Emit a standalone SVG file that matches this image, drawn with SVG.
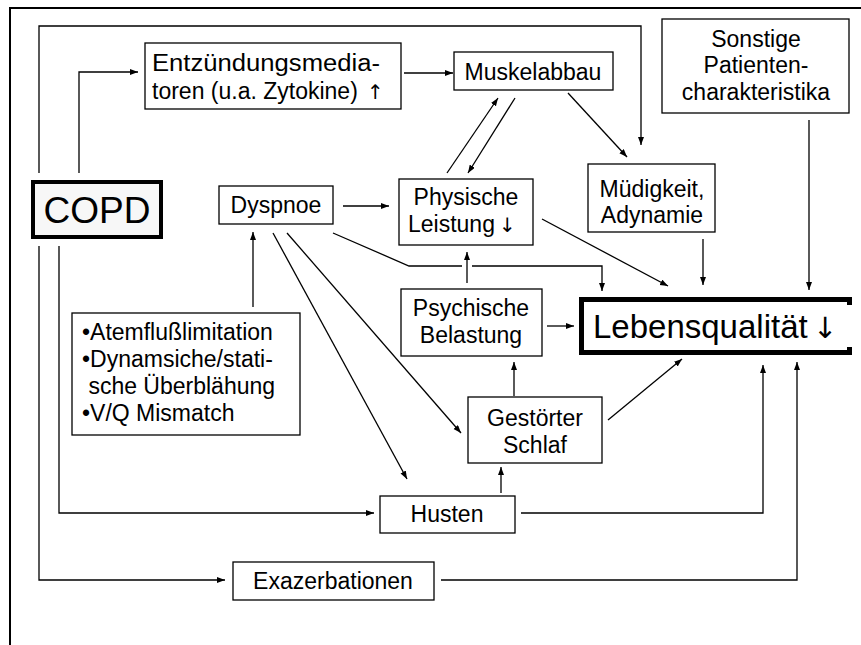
<svg xmlns="http://www.w3.org/2000/svg" width="861" height="645" viewBox="0 0 861 645">
<style>
.box{fill:#fff;stroke:#000;stroke-width:1.3}
.t{font-family:"Liberation Sans",Arial,sans-serif;font-size:23px;fill:#000}
.c{text-anchor:middle}
.ar{font-family:"DejaVu Sans",sans-serif;fill:#000}
.ln{fill:none;stroke:#000;stroke-width:1.3}
</style>
<defs>
<marker id="ah" markerUnits="userSpaceOnUse" markerWidth="9" markerHeight="7" refX="8" refY="3" orient="auto">
<path d="M0,0 L8,3 L0,6 z" fill="#000"/>
</marker>
</defs>
<rect width="861" height="645" fill="#fff"/>
<path d="M10,645 L10,8 L861,8" fill="none" stroke="#000" stroke-width="2"/>
<g id="connectors" class="ln">
<path class="ln" d="M39,173 L39,26 L641,26 L641,145" marker-end="url(#ah)"/>
<path class="ln" d="M79,173 L79,72 L138,72" marker-end="url(#ah)"/>
<path class="ln" d="M404,73 L453,73" marker-end="url(#ah)"/>
<path class="ln" d="M568,93 L627,157" marker-end="url(#ah)"/>
<path class="ln" d="M447,173 L498,98" marker-end="url(#ah)"/>
<path class="ln" d="M515,98 L468,173" marker-end="url(#ah)"/>
<path class="ln" d="M809,120 L809,290" marker-end="url(#ah)"/>
<path class="ln" d="M703,239 L703,285" marker-end="url(#ah)"/>
<path class="ln" d="M542,219 L668,286" marker-end="url(#ah)"/>
<path class="ln" d="M343,206 L389,206" marker-end="url(#ah)"/>
<path class="ln" d="M333,233 L409,266 L462,266 M472,266 L602,266 L602,291" marker-end="url(#ah)"/>
<path class="ln" d="M467,283 L467,252" marker-end="url(#ah)"/>
<path class="ln" d="M547,326 L574,326" marker-end="url(#ah)"/>
<path class="ln" d="M253,307 L253,232" marker-end="url(#ah)"/>
<path class="ln" d="M287,233 L461,433" marker-end="url(#ah)"/>
<path class="ln" d="M273,233 L407,479" marker-end="url(#ah)"/>
<path class="ln" d="M514,396 L514,362" marker-end="url(#ah)"/>
<path class="ln" d="M608,420 L682,359" marker-end="url(#ah)"/>
<path class="ln" d="M501,493 L501,467" marker-end="url(#ah)"/>
<path class="ln" d="M521,513 L763,513 L763,365" marker-end="url(#ah)"/>
<path class="ln" d="M441,580 L797,580 L797,362" marker-end="url(#ah)"/>
<path class="ln" d="M39,246 L39,580 L225,580" marker-end="url(#ah)"/>
<path class="ln" d="M59,246 L59,513 L374,513" marker-end="url(#ah)"/>
</g>
<g id="copd">
<rect x="33" y="182" width="128" height="55" fill="#f7f7f7" stroke="#000" stroke-width="4"/>
<text class="t c" x="97" y="223" style="font-size:37px">COPD</text>
</g>
<g id="entzuendung">
<rect class="box" x="145" y="43" width="256" height="66"/>
<text class="t" x="152" y="71" textLength="228" lengthAdjust="spacingAndGlyphs">Entzündungsmedia-</text>
<text class="t" x="152" y="99">toren (u.a. Zytokine)</text>
<text class="ar" x="367" y="99" style="font-size:20px">↑</text>
</g>
<g id="muskelabbau">
<rect class="box" x="454" y="52" width="159" height="38"/>
<text class="t c" x="533" y="80">Muskelabbau</text>
</g>
<g id="sonstige">
<rect class="box" x="662" y="19" width="187" height="94"/>
<text class="t c" x="756" y="47">Sonstige</text>
<text class="t c" x="756" y="73">Patienten-</text>
<text class="t c" x="756" y="100">charakteristika</text>
</g>
<g id="muedigkeit">
<rect class="box" x="588" y="164" width="127" height="68"/>
<text class="t c" x="652" y="197">Müdigkeit,</text>
<text class="t c" x="652" y="223">Adynamie</text>
</g>
<g id="dyspnoe">
<rect class="box" x="219" y="186" width="114" height="38"/>
<text class="t c" x="276" y="213">Dyspnoe</text>
</g>
<g id="physische">
<rect class="box" x="399" y="179" width="134" height="66"/>
<text class="t c" x="466" y="205">Physische</text>
<text class="t" x="408" y="232">Leistung</text>
<text class="ar" x="499" y="232" style="font-size:20px">↓</text>
</g>
<g id="psychische">
<rect class="box" x="401" y="289" width="141" height="67"/>
<text class="t c" x="471" y="316">Psychische</text>
<text class="t c" x="471" y="343">Belastung</text>
</g>
<g id="lebensqualitaet">
<rect x="584" y="302" width="268" height="48" fill="#fff"/>
<path d="M849.5,305 L849.5,299.5 L581.5,299.5 L581.5,352.5 L849.5,352.5 L849.5,347" fill="none" stroke="#000" stroke-width="5"/>
<text class="t" x="593" y="338" style="font-size:33px">Lebensqualität</text>
<text class="ar" x="813" y="338" style="font-size:29px">↓</text>
</g>
<g id="atemfluss">
<rect class="box" x="72" y="313" width="228" height="122"/>
<text class="t" x="82" y="340">•Atemflußlimitation</text>
<text class="t" x="82" y="367">•Dynamsiche/stati-</text>
<text class="t" x="82" y="394" xml:space="preserve"> sche Überblähung</text>
<text class="t" x="82" y="421">•V/Q Mismatch</text>
</g>
<g id="gestoerter">
<rect class="box" x="468" y="397" width="134" height="66"/>
<text class="t c" x="535" y="426">Gestörter</text>
<text class="t c" x="535" y="453">Schlaf</text>
</g>
<g id="husten">
<rect class="box" x="380" y="496" width="135" height="37"/>
<text class="t c" x="447" y="522">Husten</text>
</g>
<g id="exazerbationen">
<rect class="box" x="233" y="562" width="201" height="38"/>
<text class="t c" x="333" y="589">Exazerbationen</text>
</g>
</svg>
